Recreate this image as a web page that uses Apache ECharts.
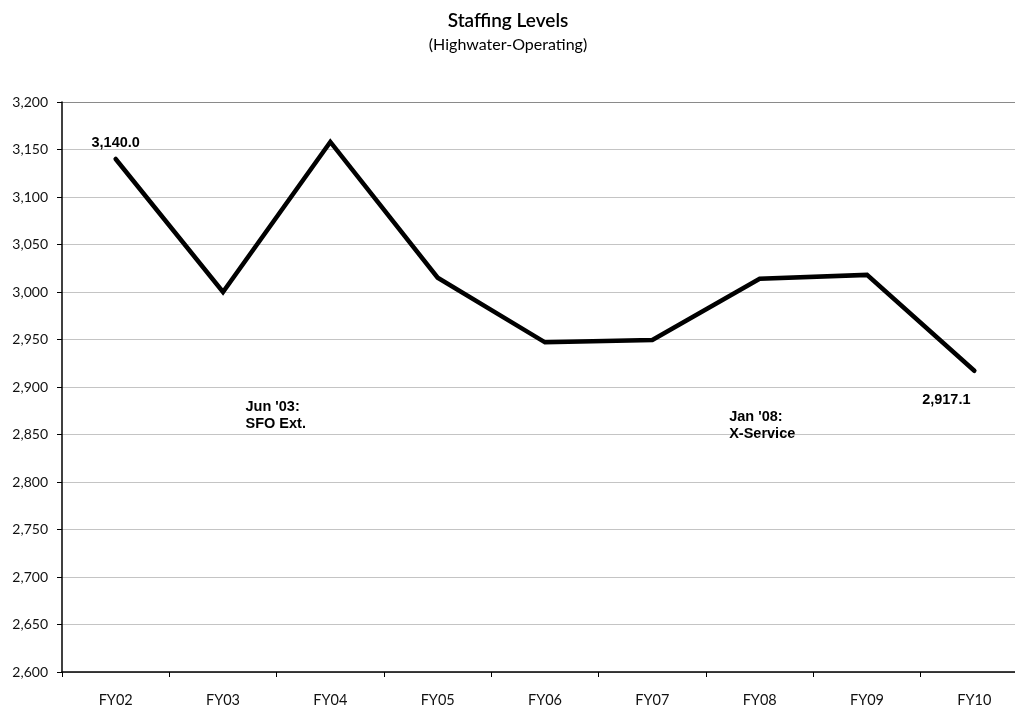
<!DOCTYPE html>
<html>
<head>
<meta charset="utf-8">
<script src="https://cdn.jsdelivr.net/npm/echarts@6/dist/echarts.min.js"></script>
<style>
  html, body { margin: 0; padding: 0; background: #fff; overflow: hidden; }
  #chart { width: 1028px; height: 708px; }
</style>
</head>
<body>
<div id="chart"></div>
<script>
// Fiscal years on the category axis
const fiscalYears = ['FY02', 'FY03', 'FY04', 'FY05', 'FY06', 'FY07', 'FY08', 'FY09', 'FY10'];
// Highwater operating staffing level per fiscal year
const staffing = [3140.0, 3000, 3158, 3015, 2947, 2949.5, 3014, 3018, 2917.1];
// Value axis range
const yMin = 2600, yMax = 3200, yStep = 50;
// Callout notes: [category, value anchor, text, horizontal nudge]
const notes = [
  ['FY03', 2870, "Jun '03:\nSFO Ext.", 22],
  ['FY08', 2860, "Jan '08:\nX-Service", -31]
];

const fmt = v => v.toLocaleString('en-US');
const fmt1 = v => v.toLocaleString('en-US', { minimumFractionDigits: 1, maximumFractionDigits: 1 });
const axisFont = 'Lato, "DejaVu Sans", sans-serif';
const boldFont = 'Arial, "Liberation Sans", sans-serif';
const lastIdx = staffing.length - 1;
const gridColors = new Array(12).fill('#c4c4c4').concat(['#8a8a8a']);
const hidden = { color: 'rgba(0,0,0,0)', borderWidth: 0 };

const chart = echarts.init(document.getElementById('chart'), null, { renderer: 'canvas' });
chart.setOption({
  animation: false,
  backgroundColor: '#fff',
  graphic: [
    {
      type: 'text', silent: true,
      x: 508, y: 11,
      style: { text: 'Staffing Levels', textAlign: 'center', fontFamily: axisFont, fontSize: 19, fontWeight: 600, fill: '#000' }
    },
    {
      type: 'text', silent: true,
      x: 508, y: 37,
      style: { text: '(Highwater-Operating)', textAlign: 'center', fontFamily: axisFont, fontSize: 16, fill: '#000' }
    }
  ],
  grid: { left: 62, top: 102, right: 0, height: 570, containLabel: false },
  xAxis: {
    type: 'category',
    data: fiscalYears,
    boundaryGap: true,
    axisLine: { lineStyle: { color: '#000', width: 1.5 } },
    axisTick: { show: true, length: 5, lineStyle: { color: '#000' } },
    axisLabel: { color: '#111', fontFamily: axisFont, fontSize: 14.5, margin: 21 },
    splitLine: { show: false }
  },
  yAxis: {
    type: 'value',
    min: yMin,
    max: yMax,
    interval: yStep,
    axisLine: { show: true, lineStyle: { color: '#000', width: 1.5 } },
    axisTick: { show: true, length: 5, lineStyle: { color: '#000' } },
    axisLabel: { color: '#111', fontFamily: axisFont, fontSize: 14, margin: 14, formatter: v => fmt(v) },
    splitLine: { show: true, lineStyle: { color: gridColors, width: 1 } }
  },
  series: [
    {
      type: 'line',
      data: staffing,
      symbol: 'circle',
      symbolSize: 1,
      showSymbol: true,
      itemStyle: hidden,
      lineStyle: { color: '#000', width: 4.5, cap: 'round', join: 'miter' },
      label: {
        show: true,
        position: 'top',
        opacity: 1,
        fontFamily: boldFont,
        fontSize: 14.5,
        fontWeight: 'bold',
        color: '#000',
        formatter: p => (p.dataIndex === 0 || p.dataIndex === lastIdx) ? fmt1(p.value) : ''
      },
      labelLayout: p => {
        if (p.dataIndex === 0) return { dx: 0, dy: -3 };
        if (p.dataIndex === lastIdx) return { dx: -28, dy: 42 };
        return {};
      },
      markPoint: {
        symbol: 'circle',
        symbolSize: 1,
        itemStyle: hidden,
        label: {
          show: true,
          position: 'right',
          distance: 0,
          opacity: 1,
          align: 'left',
          fontFamily: boldFont,
          fontSize: 14.5,
          fontWeight: 'bold',
          lineHeight: 17,
          color: '#000',
          formatter: p => p.data.note
        },
        data: notes.map(n => ({ coord: [n[0], n[1]], note: n[2], label: { offset: [n[3], 0] } }))
      }
    }
  ]
});
</script>
</body>
</html>
